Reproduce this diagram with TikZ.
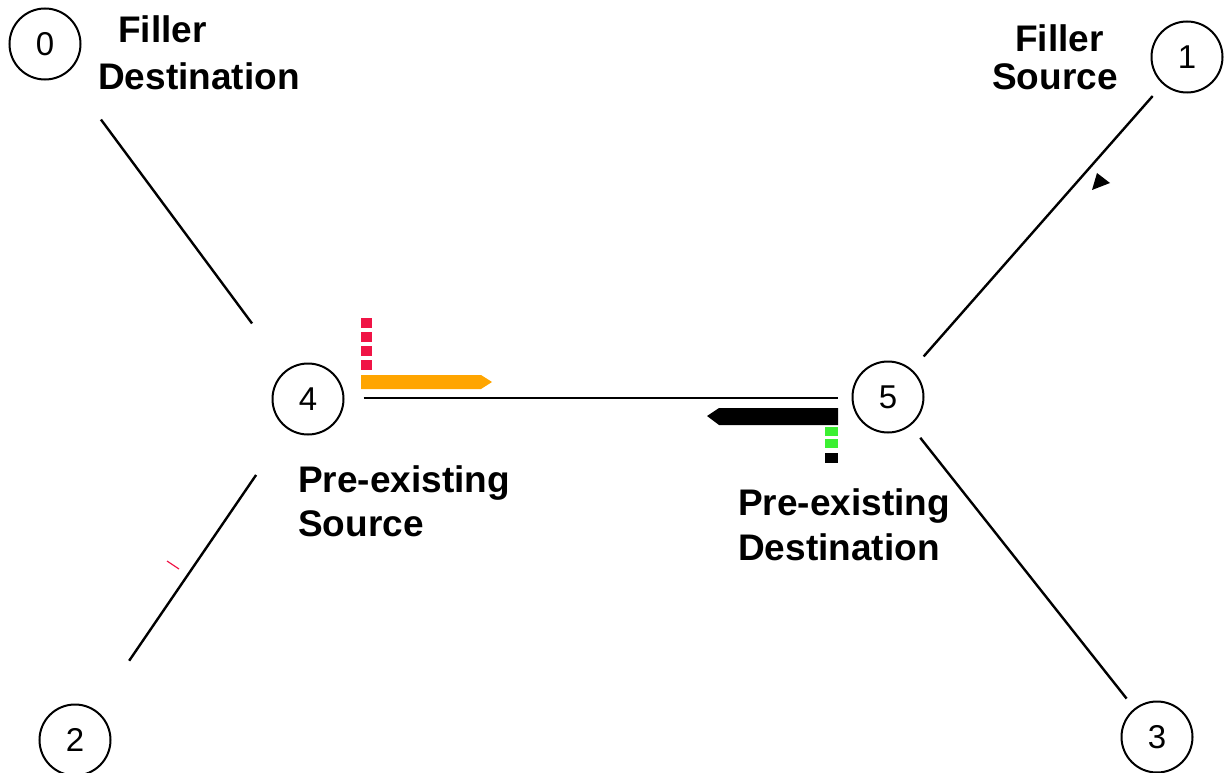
\documentclass[tikz,border=0pt]{standalone}
\usepackage{fontspec}
\setmainfont{Liberation Sans}
\definecolor{pktorange}{RGB}{255,165,0}
\definecolor{pktred}{RGB}{240,20,70}
\definecolor{pktgreen}{RGB}{60,240,50}
\begin{document}
\begin{tikzpicture}[x=1pt,y=-1pt,
  vertex/.style={circle,draw,line width=2pt,minimum size=71pt,inner sep=0pt,
    font=\fontsize{33}{33}\selectfont},
  link/.style={line width=2.4pt},
  lbl/.style={anchor=base west,inner sep=0pt,font=\fontsize{37}{37}\selectfont\bfseries}]
\useasboundingbox (0,0) rectangle (1224,773);

% routers
\node[vertex] (n0) at (45,44)   {0};
\node[vertex] (n1) at (1187,57) {1};
\node[vertex] (n2) at (75,740)  {2};
\node[vertex] (n3) at (1157,737){3};
\node[vertex] (n4) at (308,399) {4};
\node[vertex] (n5) at (888,397) {5};

% links (measured from router centres)
\draw[link,shorten <=94pt,shorten >=94pt] (n0.center) -- (n4.center);
\draw[link,shorten <=52pt,shorten >=54pt] (n1.center) -- (n5.center);
\draw[link,shorten <=96pt,shorten >=92pt] (n2.center) -- (n4.center);
\draw[link,shorten <=52pt,shorten >=49pt] (n5.center) -- (n3.center);
\draw[link] (n4.east |- 0,398) ++(19,0) coordinate (a) -- (838,398) coordinate (b);

% labels
\node[lbl] (t0a) at (118,43)  {Filler};
\node[lbl] (t0b) at (98,90)   {Destination};
\node[lbl] (t1a) at (1015,52) {Filler};
\node[lbl] (t1b) at (992,90)  {Source};
\node[lbl] (t4a) at (298,492) {Pre-existing};
\node[lbl] (t4b) at (298,536) {Source};
\node[lbl] (t5a) at (738,515) {Pre-existing};
\node[lbl] (t5b) at (738,560) {Destination};

% packet flow at router 4
\fill[pktorange] (361,375) -- (481,375) -- (492,382) -- (481,389) -- (361,389) -- cycle;
\foreach \yy in {318,332,346,360}
  \fill[pktred] (361,\yy) rectangle (372,\yy+10);

% packet flow at router 5
\fill[black] (838,408) -- (838,425) -- (719,425) -- (707,416) -- (719,408) -- cycle;
\fill[pktgreen] (825,427) rectangle (838,436);
\fill[pktgreen] (825,439) rectangle (838,448);
\fill[black] (825,453) rectangle (838,463);

% small markers
\fill[black] (1097,173) -- (1110,183) -- (1092,190) -- cycle;
\draw[pktred,line width=1.2pt] (167,561) -- (179,569);
\end{tikzpicture}
\end{document}
